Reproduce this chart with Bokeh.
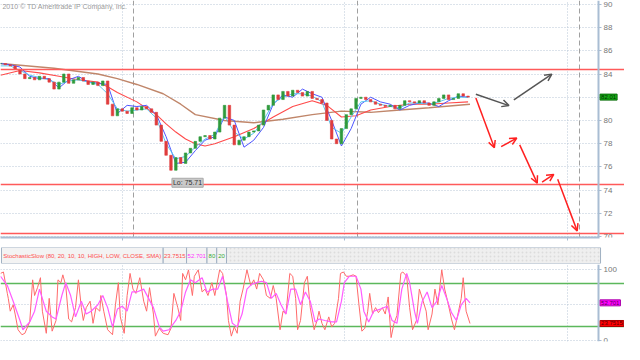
from bokeh.plotting import figure
from bokeh.layouts import column
from bokeh.models import Range1d, FixedTicker, Label, Arrow, OpenHead, ColumnDataSource
from bokeh.embed import file_html
from bokeh.resources import INLINE
from bokeh.core.properties import value

FONT = "Liberation Sans"

# ---------------- data ----------------
bar_x = list(range(0, 481, 5))
close = [84.9, 84.8, 84.7, 84.4, 84.0, 83.6, 83.7, 83.5, 83.8, 83.6,
         83.3, 82.7, 83.3, 84.0, 83.2, 83.5, 83.7, 83.4, 83.1, 83.3,
         83.0, 83.4, 81.4, 80.4, 81.0, 80.8, 80.6, 81.1, 80.9, 81.2,
         81.0, 80.7, 79.6, 78.2, 77.0, 75.71, 76.8, 76.3, 77.2, 77.6,
         78.2, 78.6, 78.7, 78.4, 79.0, 80.2, 81.3, 79.6, 77.9, 78.3,
         78.6, 79.0, 79.1, 79.6, 80.9, 81.3, 82.2, 81.8, 82.5, 82.1,
         82.6, 82.4, 82.1, 82.5, 81.9, 81.8, 81.5, 80.0, 78.4, 78.0,
         79.3, 80.5, 81.0, 81.9, 82.0, 81.8, 81.6, 81.4, 81.3, 81.2,
         81.3, 81.0, 81.3, 81.7, 81.6, 81.5, 81.7, 81.5, 81.3, 81.6,
         81.9, 82.2, 81.8, 81.9, 82.3, 82.1, 82.01]

fast_x = list(range(0, 481, 10))
ma_blue = [84.9, 84.8, 84.6, 83.8, 83.6, 83.6, 82.8, 83.5, 83.8, 83.3,
           83.2, 83.1, 80.6, 81.3, 81.2, 81.3, 80.5, 78.6, 76.3, 76.4,
           77.4, 78.3, 78.6, 80.3, 80.0, 77.7, 78.3, 79.4, 81.4, 82.2,
           82.0, 82.7, 82.3, 82.0, 80.0, 77.8, 79.3, 81.4, 82.0, 81.6,
           81.4, 80.9, 81.3, 81.5, 81.5, 81.2, 81.7, 82.1, 82.0]
ma_cyan = [84.7, 84.7, 84.3, 83.9, 83.7, 83.5, 83.1, 83.4, 83.5, 83.3,
           83.1, 82.3, 81.0, 80.8, 80.9, 81.0, 80.2, 78.0, 76.7, 76.9,
           77.7, 78.4, 78.8, 80.4, 79.0, 78.4, 78.9, 80.0, 81.5, 82.0,
           82.3, 82.3, 82.1, 81.6, 79.4, 78.9, 80.3, 81.6, 81.7, 81.4,
           81.2, 81.1, 81.5, 81.5, 81.4, 81.6, 81.9, 82.0, 82.0]

red_x = [0, 20, 40, 60, 80, 100, 110, 120, 140, 160, 170, 180, 190, 200, 210,
         220, 240, 260, 280, 300, 320, 335, 350, 365, 380, 400, 420, 440, 460, 480]
ma_red = [83.9, 84.3, 84.1, 83.8, 83.5, 83.3, 82.9, 82.4, 81.6, 80.5, 79.7, 79.0, 78.4, 78.0, 77.8,
          78.0, 78.6, 79.3, 80.3, 81.2, 81.7, 81.3, 80.3, 80.4, 80.9, 81.2, 81.4, 81.4, 81.5, 81.6]

brown_x = [0, 55, 100, 120, 140, 167, 185, 200, 230, 260, 290, 320, 350, 380, 410, 440, 482]
ma_brown = [84.9, 84.5, 84.0, 83.6, 83.1, 82.3, 81.4, 80.5, 80.0, 79.8, 80.1, 80.5, 80.8, 80.7, 80.9, 81.1, 81.4]

levels = [84.35, 74.45, 70.25]
price_ticks = [70, 72, 74, 76, 78, 80, 82, 84, 86, 88, 90]
month_marks = [125, 353, 582]
week_marks = [137, 366, 594]
low_x, low_value = 175, 75.71
last_price = 82.01

gray_x0 = [488, 527]
gray_y0 = [82.26, 81.77]
gray_x1 = [522, 566]
gray_y1 = [81.28, 83.99]
red_x0 = [488, 514, 533, 556, 572]
red_y0 = [81.93, 77.74, 77.90, 74.69, 74.94]
red_x1 = [507, 530, 551, 568, 592]
red_y1 = [77.65, 78.48, 74.60, 75.35, 70.49]

k_x = [0, 3, 5, 7, 8, 10, 13, 15, 18, 22, 25, 30, 33, 35, 38, 41, 43, 47, 50, 53, 57, 59, 62, 64,
       67, 70, 73, 77, 80, 83, 85, 88, 92, 95, 98, 102, 103, 106, 110, 115, 118, 121, 123, 127,
       130, 133, 136, 139, 143, 147, 150, 153, 157, 159, 163, 167, 172, 175, 178, 182, 185, 187,
       190, 193, 197, 199, 203, 207, 210, 213, 217, 220, 225, 228, 232, 234, 237, 240, 243, 246,
       249, 253, 257, 260, 263, 266, 270, 273, 277, 280, 283, 287, 290, 293, 297, 300, 303, 305,
       308, 312, 315, 318, 322, 325, 327, 330, 333, 337, 340, 343, 347, 349, 352, 355, 358, 362,
       365, 368, 371, 374, 377, 379, 382, 385, 388, 392, 395, 398, 401, 404, 407, 411, 413, 417,
       420, 423, 427, 430, 433, 437, 439, 443, 446, 449, 453, 456, 459, 463, 466, 469, 473, 475,
       478, 482]
k_val = [94, 96, 81, 66, 59, 41, 50, 37, 15, 8, 10, 26, 85, 63, 74, 88, 41, 10, 59, 13, 28, 85, 81, 92,
         77, 30, 26, 46, 85, 46, 28, 46, 55, 24, 46, 41, 63, 41, 15, 8, 50, 81, 33, 10,
         63, 94, 72, 66, 88, 55, 41, 74, 37, 6, 17, 10, 8, 17, 66, 46, 28, 94,
         85, 99, 63, 90, 99, 68, 72, 63, 81, 63, 99, 94, 63, 28, 6, 19, 10, 55,
         72, 99, 77, 85, 72, 94, 85, 63, 59, 77, 59, 15, 41, 37, 94, 90, 59, 15,
         28, 81, 90, 46, 15, 28, 41, 24, 15, 33, 19, 24, 59, 94, 96, 90, 90, 92,
         90, 50, 13, 17, 41, 66, 37, 46, 39, 46, 37, 61, 4, 24, 35, 94, 96, 90,
         46, 15, 28, 72, 59, 41, 15, 37, 72, 50, 99, 72, 55, 30, 15, 33, 59, 88,
         41, 23.7515]

d_x = [0, 7, 13, 20, 23, 30, 35, 40, 47, 53, 57, 63, 67, 72, 77, 83, 88, 93, 100, 105, 110, 115,
       120, 125, 130, 135, 140, 147, 152, 157, 163, 167, 173, 180, 185, 190, 195, 200, 207, 212,
       218, 223, 228, 233, 238, 243, 248, 253, 258, 263, 268, 273, 278, 283, 288, 293, 298, 303,
       308, 313, 318, 323, 327, 333, 340, 345, 350, 353, 358, 365, 370, 373, 378, 383, 390, 397,
       402, 407, 412, 417, 420, 425, 428, 433, 438, 443, 448, 453, 458, 463, 468, 473, 478, 482]
d_val = [90, 77, 55, 28, 15, 26, 41, 72, 41, 33, 30, 63, 81, 63, 33, 55, 37, 41, 50, 63, 46, 19,
         44, 48, 41, 68, 68, 72, 59, 46, 19, 13, 15, 28, 41, 68, 85, 81, 88, 68,
         72, 72, 90, 55, 24, 19, 37, 72, 79, 81, 83, 81, 59, 66, 50, 37, 72, 72,
         50, 68, 55, 26, 30, 28, 26, 26, 55, 81, 90, 90, 72, 41, 26, 41, 44, 48,
         28, 24, 72, 94, 81, 41, 24, 55, 68, 46, 55, 77, 59, 39, 28, 50, 59, 52.701]

stoch_ticks = [0, 100]
stoch_grid = [0, 50, 100]
stoch_levels = [80, 20]
header_texts = ["StochasticSlow (80, 20, 10, 10, HIGH, LOW, CLOSE, SMA)", "23.7515", "52.701", "80", "20"]

# ---------------- layout constants ----------------
AXIS_BLUE = "#a9bdd3"
GRID = "#b9c7d6"
W = 624
AXIS_AT = 614          # x position (in chart units) of the price axis
X_END = 640.6          # right end of every panel

xr = Range1d(0, X_END)


def style_right_axis(fig, ticks):
    ax = fig.yaxis
    ax.fixed_location = AXIS_AT
    ax.ticker = FixedTicker(ticks=ticks)
    ax.axis_line_color = AXIS_BLUE
    ax.axis_line_width = 2
    ax.major_tick_line_color = AXIS_BLUE
    ax.major_tick_in = 0
    ax.major_tick_out = 3
    ax.minor_tick_line_color = None
    ax.major_label_text_font = FONT
    ax.major_label_text_font_size = "8px"
    ax.major_label_text_color = "#777777"
    ax.major_label_standoff = 2


def cover_axis_area(fig, y0, y1):
    # blank strip right of the axis so the dotted grid stops at the axis
    fig.quad(left=[AXIS_AT], right=[X_END], bottom=[y0], top=[y1],
             fill_color="white", line_color=None)


def value_label(val, txt, bg, fg, border):
    return Label(x=AXIS_AT, x_offset=1.5, y=val, text=txt,
                 text_baseline="middle", text_font=FONT, text_font_size="6px",
                 text_color=fg, background_fill_color=bg,
                 border_line_color=border, padding=1)


# ---------------- main price panel ----------------
PY0, PY1 = 69.92, 90.33
p = figure(width=W, height=246, x_range=xr, y_range=Range1d(PY0, PY1),
           y_axis_location="right", toolbar_location=None, output_backend="svg",
           min_border_left=0, min_border_right=0, min_border_top=0, min_border_bottom=9)
p.outline_line_color = None

p.xgrid.ticker = FixedTicker(ticks=month_marks)
p.xgrid.grid_line_color = GRID
p.xgrid.grid_line_dash = "1 2"
p.ygrid.ticker = FixedTicker(ticks=price_ticks)
p.ygrid.grid_line_color = GRID
p.ygrid.grid_line_dash = "1 2"
cover_axis_area(p, PY0, PY1)

p.vspan(x=week_marks, line_color="#a0a0a0", line_dash="5 3", line_width=1)

style_right_axis(p, price_ticks)

p.xaxis.ticker = FixedTicker(ticks=month_marks)
p.xaxis.bounds = (0, AXIS_AT + 1)
p.xaxis.major_label_overrides = {m: "" for m in month_marks}
p.xaxis.axis_line_color = AXIS_BLUE
p.xaxis.axis_line_width = 2
p.xaxis.major_tick_line_color = AXIS_BLUE
p.xaxis.major_tick_in = 0
p.xaxis.major_tick_out = 3
p.xaxis.minor_tick_line_color = None
p.xaxis.major_label_standoff = 0

# moving averages behind candles
p.line(brown_x, ma_brown, line_color="#c0866a", line_width=1.4)
p.line(red_x, ma_red, line_color="#ff4a4a", line_width=1.1)
p.line(fast_x, ma_blue, line_color="#4d55ff", line_width=1)
p.line(fast_x, ma_cyan, line_color="#5cc8f2", line_width=1)

# candles (open = previous close)
opens = [close[0]] + close[:-1]
up = [c >= o for c, o in zip(close, opens)]
src = ColumnDataSource(dict(x=bar_x, top=[max(o, c) for o, c in zip(opens, close)],
                            bottom=[min(o, c) for o, c in zip(opens, close)],
                            color=["#2f9a3c" if u else "#e03c3c" for u in up]))
p.vbar(x="x", top="top", bottom="bottom", width=2.6, fill_color="color", line_color="color",
       line_width=0.6, source=src)

# support / resistance lines
p.hspan(y=levels, line_color="#ff5a5a", line_width=1.6)

# projection arrows
gsrc = ColumnDataSource(dict(x0=gray_x0, y0=gray_y0, x1=gray_x1, y1=gray_y1))
rsrc = ColumnDataSource(dict(x0=red_x0, y0=red_y0, x1=red_x1, y1=red_y1))
p.add_layout(Arrow(source=gsrc, x_start="x0", y_start="y0", x_end="x1", y_end="y1",
                   line_color="#555555", line_width=1.5,
                   end=OpenHead(size=7, line_color="#555555", line_width=1.5)))
p.add_layout(Arrow(source=rsrc, x_start="x0", y_start="y0", x_end="x1", y_end="y1",
                   line_color="#ff2020", line_width=1.5,
                   end=OpenHead(size=7, line_color="#ff2020", line_width=1.5)))

p.add_layout(Label(x=2, y=PY1, y_offset=-2, text="2010 © TD Ameritrade IP Company, Inc.",
                   text_baseline="top", text_font=FONT, text_font_size="7px",
                   text_color="#9a9a9a"))
p.add_layout(Label(x=low_x, y=low_value, x_offset=1, y_offset=-8, text=f"Lo: {low_value}",
                   text_baseline="top", text_font=FONT, text_font_size="7px",
                   text_color="#333333", background_fill_color="#c9c9c9",
                   border_line_color="#aaaaaa", padding=1))
p.add_layout(value_label(last_price, f"{last_price:.2f}", "#16a816", "#003300", "#0a700a"))

# ---------------- header strip ----------------
h = figure(width=W, height=18, x_range=xr, y_range=Range1d(0, 1),
           toolbar_location=None, output_backend="svg", x_axis_location=None,
           y_axis_location=None, min_border_left=0, min_border_right=0,
           min_border_top=1, min_border_bottom=1)
h.outline_line_color = None
h.xgrid.visible = False
h.ygrid.visible = False
edges = [1, 167, 191, 212, 222, 232]
h.quad(left=[edges[-1]], right=[AXIS_AT + 2], bottom=[0], top=[1], fill_color="#efefef",
       hatch_pattern="dot", hatch_color="#dcdcdc", hatch_scale=4, line_color="#9fb0c2")
h.quad(left=edges[:-1], right=edges[1:], bottom=[0] * 5, top=[1] * 5,
       fill_color="#f3f3f3", line_color="#9fb0c2")
hcolors = ["#ff4d4d", "#ff4d4d", "#ff33ff", "#33aa33", "#33aa33"]
h.text(x=[(a + b) / 2 for a, b in zip(edges[:-1], edges[1:])], y=[0.5] * 5, text=header_texts,
       text_color=hcolors, text_align="center", text_baseline="middle",
       text_font=value(FONT), text_font_size="6px")

# ---------------- stochastic panel ----------------
SY0, SY1 = -1.5, 106.5
s = figure(width=W, height=80, x_range=xr, y_range=Range1d(SY0, SY1),
           y_axis_location="right", x_axis_location=None, toolbar_location=None,
           output_backend="svg", min_border_left=0, min_border_right=0,
           min_border_top=0, min_border_bottom=3)
s.outline_line_color = None
s.xgrid.ticker = FixedTicker(ticks=month_marks)
s.xgrid.grid_line_color = GRID
s.xgrid.grid_line_dash = "1 2"
s.ygrid.ticker = FixedTicker(ticks=stoch_grid)
s.ygrid.grid_line_color = GRID
s.ygrid.grid_line_dash = "1 2"
cover_axis_area(s, SY0, SY1)
style_right_axis(s, stoch_ticks)

s.hspan(y=stoch_levels, line_color="#5cb85c", line_width=1.5)
s.line(k_x, k_val, line_color="#ff6a6a", line_width=1)
s.line(d_x, d_val, line_color="#ff5cff", line_width=1.2)

s.add_layout(value_label(d_val[-1], f"{d_val[-1]}", "#ff00ff", "#550055", "#aa00aa"))
s.add_layout(value_label(k_val[-1], f"{k_val[-1]}", "#ff0000", "#550000", "#aa0000"))

layout = column(p, h, s, spacing=0)
open("out.html", "w").write(file_html(layout, INLINE))
